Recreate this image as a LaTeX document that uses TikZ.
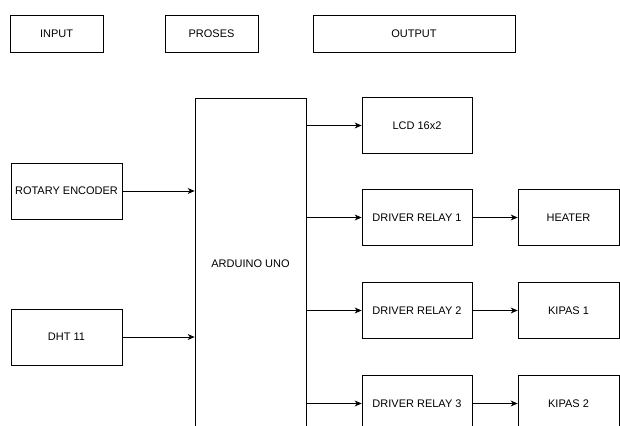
\documentclass[tikz,border=0pt]{standalone}
\usepackage{fontspec}
\setmainfont{Liberation Sans}
\usetikzlibrary{arrows.meta,positioning}
\tikzset{
  headbox/.style={draw, minimum width=#1, minimum height=37pt, inner sep=0pt,
                  font=\fontsize{11}{13}\selectfont},
  blokbox/.style={draw, minimum width=#1, minimum height=56pt, inner sep=0pt,
                  font=\fontsize{11}{13}\selectfont},
  sinyal/.style={-{Stealth[length=7pt,width=6pt]}},
}

\begin{document}
\begin{tikzpicture}[x=1pt, y=-1pt, line width=0.8pt]
\path[use as bounding box, clip] (0,0) rectangle (620,425);
\fill[white] (0,0) rectangle (620,425);
% Header
\node[headbox=93pt] (hinput) at (56.5,33.5) {INPUT};
\node[headbox=93pt] (hproses) at (211.5,33.5) {PROSES};
\node[headbox=202pt] (houtput) at (414,33.5) {OUTPUT};
% Input
\node[blokbox=111pt] (rotary) at (66.5,191) {ROTARY ENCODER};
\node[blokbox=111pt] (dht) at (66.5,337) {DHT 11};
% Proses
\node[draw, minimum width=111pt, minimum height=332pt, inner sep=0pt,
      font=\fontsize{11}{13}\selectfont] (arduino) at (250.5,264) {ARDUINO UNO};
\draw[sinyal] (rotary.east) -- (arduino.west |- rotary.east);
\draw[sinyal] (dht.east) -- (arduino.west |- dht.east);
% Output
\node[blokbox=110pt] (lcd) at (417,125.5) {LCD 16x2};
\draw[sinyal] (arduino.east |- lcd.west) -- (lcd.west);
\foreach \y/\n/\beban in {217.5/1/HEATER, 310.5/2/KIPAS 1, 403.5/3/KIPAS 2}{
  \node[blokbox=110pt] (relay\n) at (417,\y) {DRIVER RELAY \n};
  \node[blokbox=101pt] (beban\n) at (568.5,\y) {\beban};
  \draw[sinyal] (arduino.east |- relay\n.west) -- (relay\n.west);
  \draw[sinyal] (relay\n.east) -- (beban\n.west);
}
\end{tikzpicture}
\end{document}
